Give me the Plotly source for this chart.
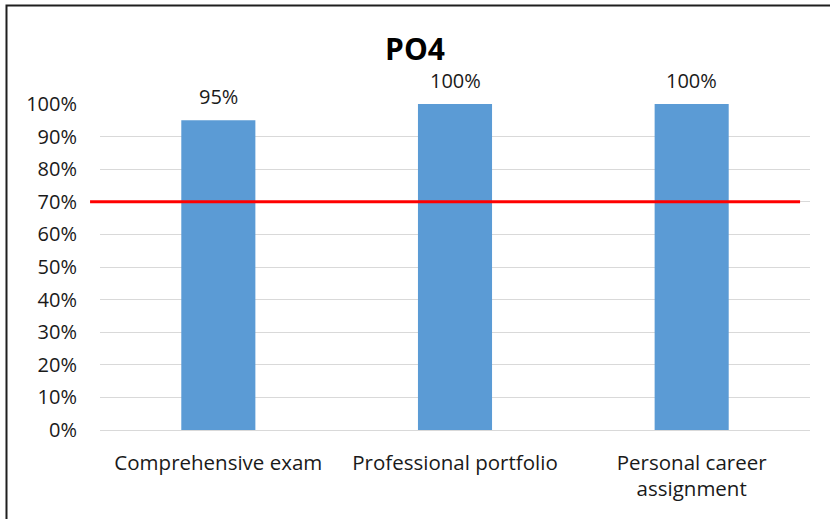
import plotly.graph_objects as go

categories = ["Comprehensive exam", "Professional portfolio", "Personal career<br>assignment"]
values = [0.95, 1.00, 1.00]
value_labels = ["95%", "100%", "100%"]
threshold = 0.70
y_ticks = [i / 10 for i in range(11)]
y_tick_labels = [f"{i*10}%" for i in range(11)]

FONT = "Open Sans, sans-serif"

fig = go.Figure()
fig.add_trace(go.Bar(
    x=categories, y=values,
    marker=dict(color="#5B9BD5", line=dict(width=0)),
    showlegend=False, hoverinfo="skip",
))

for c, v, t in zip(categories, values, value_labels):
    fig.add_annotation(x=c, y=v, text=t, showarrow=False, yanchor="bottom",
                       yshift=8, font=dict(size=20, color="#1a1a1a", family=FONT))

fig.add_shape(type="line", xref="paper", yref="y",
              x0=-0.014, x1=0.986, y0=threshold, y1=threshold,
              line=dict(color="#FF0000", width=3))

# outer chart border
fig.add_shape(type="rect", xref="paper", yref="paper",
              x0=-0.1317, x1=1.04, y0=-0.3, y1=1.302,
              line=dict(color="#1f1f1f", width=2), fillcolor="rgba(0,0,0,0)",
              layer="above")

fig.update_layout(
    width=830, height=519,
    margin=dict(l=100, r=20, t=104, b=89),
    paper_bgcolor="white", plot_bgcolor="white",
    bargap=0.687,
    title=dict(text="<b>PO4</b>", x=0.5, xanchor="center", y=0.905, yanchor="middle",
               font=dict(size=30, color="#000000", family=FONT)),
    font=dict(family=FONT, size=20, color="#1a1a1a"),
    xaxis=dict(showgrid=False, showline=False, ticks="", tickfont=dict(size=20.5),
               ticklabelstandoff=18),
    yaxis=dict(range=[0, 1], tickvals=y_ticks, ticktext=y_tick_labels,
               showgrid=True, gridcolor="#D9D9D9", gridwidth=1,
               zeroline=True, zerolinecolor="#D9D9D9", zerolinewidth=1,
               showline=False, ticks="", tickfont=dict(size=20),
               ticklabelstandoff=22),
)

fig.write_html("out.html", config={"displayModeBar": False},
               post_script="document.body.style.margin='0';")
